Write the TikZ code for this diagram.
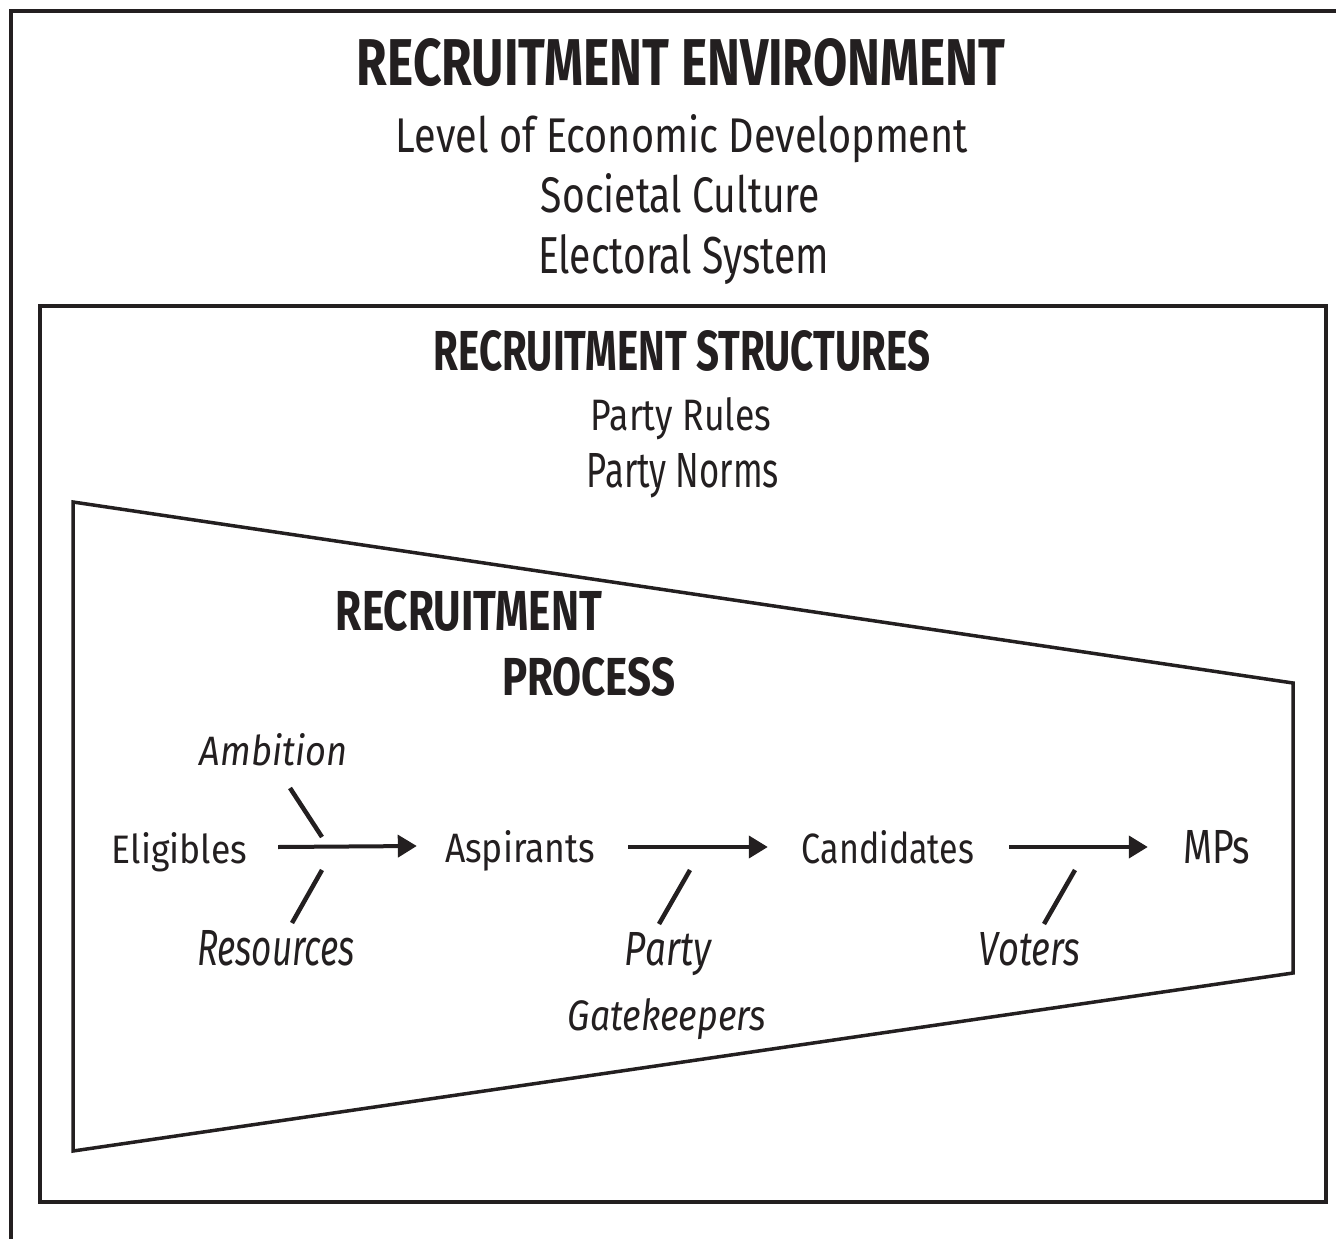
\documentclass[tikz,border=0pt]{standalone}
\usepackage{fontspec}
\setmainfont{Fira Sans}
\usetikzlibrary{arrows.meta}
\definecolor{ink}{RGB}{35,31,32}
\newcommand\fitto[3]{\resizebox{#1pt}{#2pt}{#3}}
\begin{document}
\begin{tikzpicture}[x=1pt,y=-1pt,
  frame/.style={line width=4pt, draw=ink, line join=miter},
  lab/.style={inner sep=0pt, anchor=base, text=ink},
  arr/.style={line width=4pt, draw=ink, -{Triangle[length=19pt,width=22pt]}},
  tickline/.style={line width=4.5pt, draw=ink}]
\useasboundingbox (0,0) rectangle (1336,1239);
% frames
\draw[frame] (11,1239) -- (11,11) -- (1336,11);
\draw[frame] (40,306) rectangle (1326,1202);
\draw[frame, line width=3.5pt] (73,502) -- (1293,683) -- (1293,973) -- (73,1151) -- cycle;
% environment
\node[lab] (env)  at (681,85)  {\fitto{648}{47}{\bfseries RECRUITMENT ENVIRONMENT}};
\node[lab] (econ) at (682,152) {\fitto{572}{38}{Level of Economic Development}};
\node[lab] (soc)  at (680.5,212) {\fitto{279}{39}{Societal Culture}};
\node[lab] (elec) at (683.5,273) {\fitto{291}{39}{Electoral System}};
% structures
\node[lab] (str)   at (682,370) {\fitto{496}{40}{\bfseries RECRUITMENT STRUCTURES}};
\node[lab] (rules) at (681,430) {\fitto{180}{33}{Party Rules}};
\node[lab] (norms) at (683,487) {\fitto{192}{34}{Party Norms}};
% process
\node[lab] (proc1) at (469,630) {\fitto{266}{40}{\bfseries RECRUITMENT}};
\node[lab] (proc2) at (588.5,695) {\fitto{173}{38}{\bfseries PROCESS}};
\node[lab] (amb)  at (273.5,765) {\fitto{147}{32}{\itshape Ambition}};
\node[lab] (elig) at (179.5,863) {\fitto{135}{31}{Eligibles}};
\node[lab] (asp)  at (520,862)   {\fitto{150}{32}{Aspirants}};
\node[lab] (cand) at (888,863)   {\fitto{172}{33}{Candidates}};
\node[lab] (mps)  at (1216.5,863){\fitto{67}{33}{MPs}};
\node[lab] (res)  at (276,965)   {\fitto{158}{35}{\itshape Resources}};
\node[lab] (party) at (668,965)  {\fitto{86}{33}{\itshape Party}};
\node[lab] (gate) at (667,1030)  {\fitto{198}{32}{\itshape Gatekeepers}};
\node[lab] (vot)  at (1029.5,965){\fitto{101}{33}{\itshape Voters}};
% arrows
\draw[arr] ([shift={(31,-16)}]elig.base east) -- ([shift={(-28,-16)}]asp.base west);
\draw[arr] ([shift={(33,-15)}]asp.base east) -- ([shift={(-34,-16)}]cand.base west);
\draw[arr] ([shift={(35,-16)}]cand.base east) -- ([shift={(-35,-16)}]mps.base west);
% influence ticks
\coordinate (ambA) at (290,788); \coordinate (ambB) at (322,837);
\coordinate (resA) at (292,923); \coordinate (resB) at (322,870);
\coordinate (parA) at (659,924); \coordinate (parB) at (690,870);
\coordinate (votA) at (1044,924); \coordinate (votB) at (1075,870);
\draw[tickline] (ambA) -- (ambB);
\draw[tickline] (resA) -- (resB);
\draw[tickline] (parA) -- (parB);
\draw[tickline] (votA) -- (votB);
\end{tikzpicture}
\end{document}
